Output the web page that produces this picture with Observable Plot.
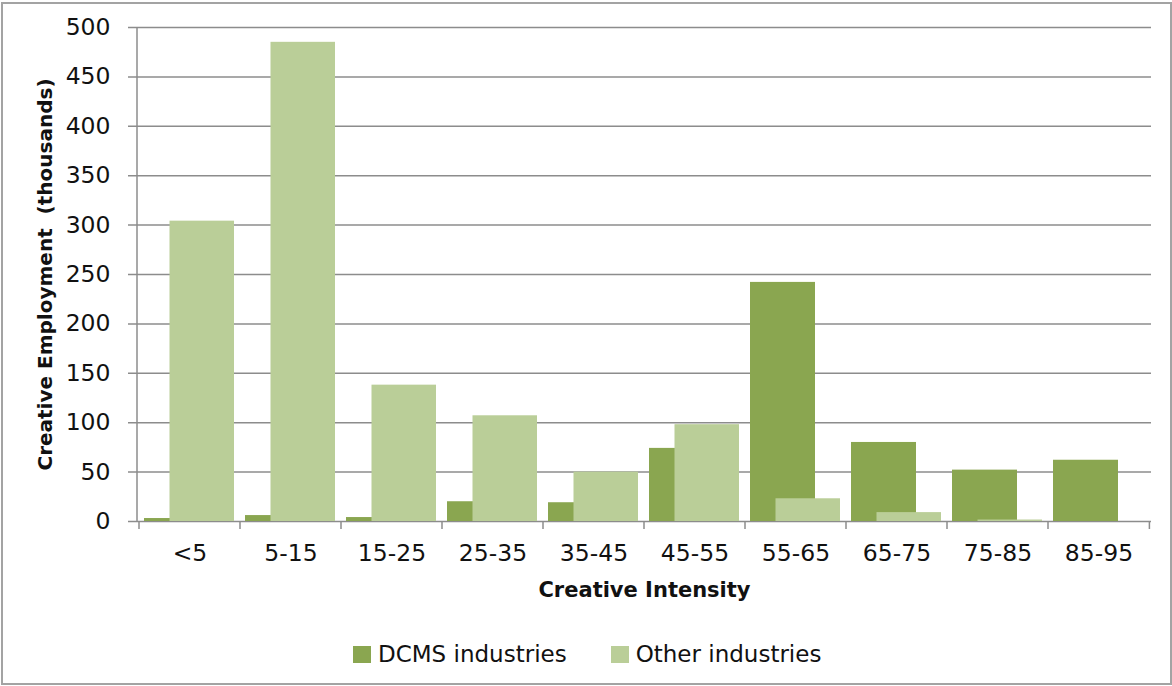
<!DOCTYPE html>
<html>
<head>
<meta charset="utf-8">
<script src="https://cdn.jsdelivr.net/npm/d3@7"></script>
<script src="https://cdn.jsdelivr.net/npm/@observablehq/plot@0.6"></script>
<style>
  body { margin: 0; background: #fff; font-family: "DejaVu Sans", sans-serif; }
  #chart { position: relative; width: 1172px; height: 686px; overflow: hidden; }
  #frame { position: absolute; left: 1px; top: 2px; width: 1171px; height: 683px;
           border: 2px solid #a3a3a3; box-sizing: border-box; pointer-events: none; }
  #legend { position: absolute; left: 353px; top: 641px; display: flex; align-items: center;
            font-size: 23px; color: #111; white-space: nowrap; }
  .item { display: flex; align-items: center; margin-right: 44px; }
  .swatch { width: 18px; height: 17px; margin-right: 7px; }
</style>
</head>
<body>
<div id="chart"><div id="frame"></div></div>
<script>
// Creative employment (thousands) by creative intensity band
const categories = ["<5", "5-15", "15-25", "25-35", "35-45", "45-55", "55-65", "65-75", "75-85", "85-95"];
const dcmsValues = [3, 6, 4, 20, 19, 74, 242, 80, 52, 62];
const otherValues = [304, 485, 138, 107, 50, 98, 23, 9, 1.5, 0];
const seriesNames = ["DCMS industries", "Other industries"];
const seriesColors = ["#8aa650", "#bace98"];
const yTicks = [0, 50, 100, 150, 200, 250, 300, 350, 400, 450, 500];
const xTitle = "Creative Intensity";
const yTitle = "Creative Employment  (thousands)";

const rows = categories.map((c, i) => ({category: c, dcms: dcmsValues[i], other: otherValues[i]}));

// y axis line plus tick marks at the band boundaries below the baseline
function bandFrame(index, scales, values, dimensions) {
  const {marginLeft, marginRight, marginTop, marginBottom, width, height} = dimensions;
  const bw = (width - marginLeft - marginRight) / categories.length;
  const base = height - marginBottom;
  const g = d3.create("svg:g").attr("stroke", "#8c8c8c").attr("stroke-width", 1.5);
  g.append("line").attr("x1", marginLeft).attr("x2", marginLeft).attr("y1", marginTop).attr("y2", base);
  const edges = categories.map(c => scales.x(c)).concat([scales.x(categories[categories.length - 1]) + bw]);
  for (const x of edges) {
    g.append("line").attr("x1", x).attr("x2", x).attr("y1", base).attr("y2", base + 8);
  }
  return g.node();
}

const plot = Plot.plot({
  width: 1172,
  height: 686,
  marginLeft: 137,
  marginRight: 21,
  marginTop: 27,
  marginBottom: 165,
  style: {fontFamily: "DejaVu Sans, sans-serif", fontSize: "23.5px", color: "#111", background: "transparent", overflow: "visible"},
  x: {domain: categories, padding: 0, tickSize: 0, tickPadding: 23, label: null},
  y: {domain: [0, 500], ticks: yTicks, tickSize: 0, tickPadding: 27, label: null},
  marks: [
    Plot.ruleY(yTicks, {stroke: "#8c8c8c", strokeWidth: 1.5, insetLeft: -9}),
    bandFrame,
    Plot.barY(rows, {x: "category", y: "dcms", fill: seriesColors[0], insetLeft: 5, insetRight: 31}),
    Plot.barY(rows, {x: "category", y: "other", fill: seriesColors[1], insetLeft: 30.5, insetRight: 6}),
    Plot.text([xTitle], {text: d => d, frameAnchor: "bottom", dy: 75, fontWeight: "bold", fontSize: 21, fill: "#111"}),
    Plot.text([yTitle], {text: d => d, frameAnchor: "left", textAnchor: "middle", rotate: -90, dx: -92, fontWeight: "bold", fontSize: 20, fill: "#111"})
  ]
});

const chart = document.getElementById("chart");
chart.insertBefore(plot, chart.firstChild);

// legend below the plot
const legend = d3.select(chart).append("div").attr("id", "legend");
seriesNames.forEach((name, i) => {
  const item = legend.append("div").attr("class", "item");
  item.append("div").attr("class", "swatch").style("background", seriesColors[i]);
  item.append("span").text(name);
});
</script>
</body>
</html>
